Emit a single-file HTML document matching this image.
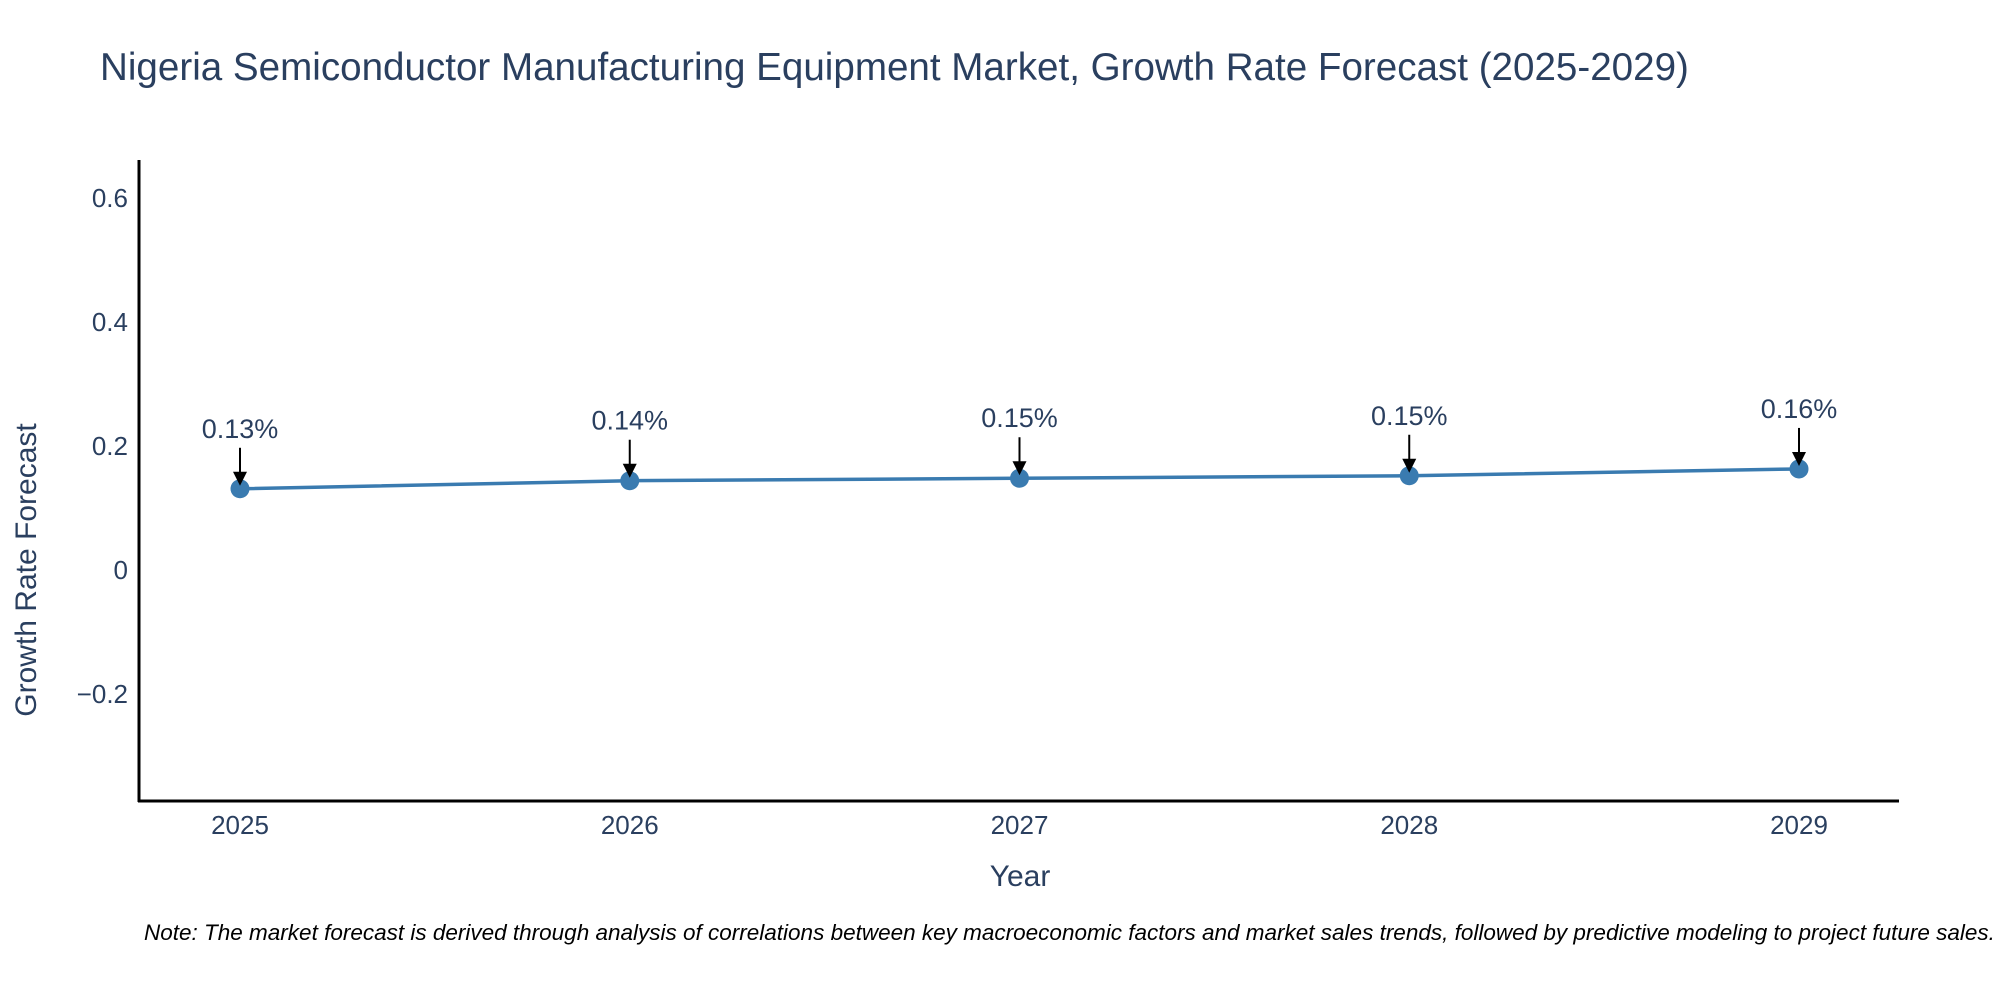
<!DOCTYPE html>
<html><head><meta charset="utf-8"><style>
body{margin:0;background:#fff;}
svg text{font-family:"Liberation Sans","DejaVu Sans",sans-serif;}
</style></head><body>
<svg width="2000" height="1000" xmlns="http://www.w3.org/2000/svg" id="chart">
<rect width="2000" height="1000" fill="#fff"/>
<text x="100" y="80" font-size="38.6" fill="#2a3f5f">Nigeria Semiconductor Manufacturing Equipment Market, Growth Rate Forecast (2025-2029)</text>
<g id="yticks"></g><g id="xticks"></g>
<line x1="139" y1="160" x2="139" y2="802" stroke="#000" stroke-width="3"/>
<line x1="138" y1="801" x2="1899" y2="801" stroke="#000" stroke-width="3"/>
<g id="series"></g><g id="annotations"></g>
<text x="1020" y="886" font-size="30" fill="#2a3f5f" text-anchor="middle">Year</text>
<text transform="translate(36,570) rotate(-90)" font-size="30" fill="#2a3f5f" text-anchor="middle">Growth Rate Forecast</text>
<text x="144" y="940" font-size="22.5" font-style="italic" fill="#000">Note: The market forecast is derived through analysis of correlations between key macroeconomic factors and market sales trends, followed by predictive modeling to project future sales.</text>
</svg>
<script>
const years=[2025,2026,2027,2028,2029];
const values=[0.131,0.144,0.148,0.152,0.163];
const labels=["0.13%","0.14%","0.15%","0.15%","0.16%"];
const yTicks=[-0.2,0,0.2,0.4,0.6];
const yTickLabels=["\u22120.2","0","0.2","0.4","0.6"];
const NS="http://www.w3.org/2000/svg";
const xs=y=>240+(y-2025)*389.75;
const ys=v=>570-v*620;
function mk(tag,attrs,parent,txt){const e=document.createElementNS(NS,tag);for(const k in attrs)e.setAttribute(k,attrs[k]);if(txt!==undefined)e.textContent=txt;parent.appendChild(e);return e;}
const yt=document.getElementById('yticks');
yTicks.forEach((t,i)=>{const e=mk('text',{x:128,y:ys(t)+9,'font-size':26,fill:'#2a3f5f','text-anchor':'end'},yt,yTickLabels[i]);

});
const xt=document.getElementById('xticks');
years.forEach(y=>{const e=mk('text',{x:xs(y),y:834,'font-size':26,fill:'#2a3f5f','text-anchor':'middle'},xt,String(y));

});
const s=document.getElementById('series');
const pl=mk('polyline',{points:years.map((y,i)=>xs(y)+','+ys(values[i])).join(' '),fill:'none',stroke:'#3a7bb0','stroke-width':3.5},s);


years.forEach((y,i)=>{const c=mk('circle',{cx:xs(y),cy:ys(values[i]),r:9.5,fill:'#3a7bb0'},s);

});
const an=document.getElementById('annotations');
years.forEach((y,i)=>{const x=xs(y),py=ys(values[i]);
const g=mk('g',{},an);


mk('text',{x:x,y:py-51,'font-size':27,fill:'#2a3f5f','text-anchor':'middle'},g,labels[i]);
mk('line',{x1:x,y1:py-41,x2:x,y2:py-14,stroke:'#000','stroke-width':2},g);
mk('polygon',{points:`${x-7},${py-17} ${x+7},${py-17} ${x},${py-3}`,fill:'#000'},g);});
</script>
</body></html>
